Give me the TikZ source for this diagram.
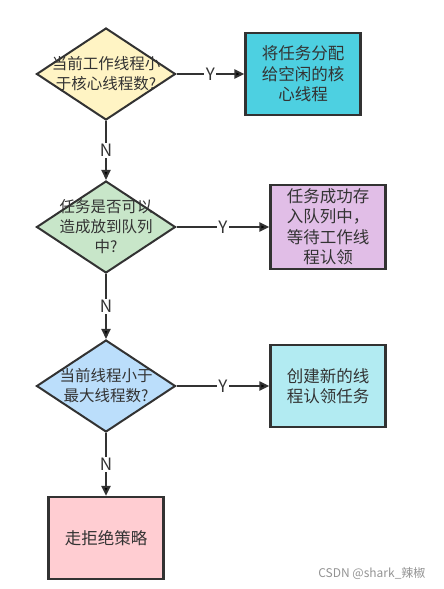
\documentclass[tikz,border=0pt]{standalone}
\usepackage{fontspec}
\setmainfont{Noto Sans CJK SC}
\usetikzlibrary{arrows.meta,shapes.geometric}
\definecolor{lineC}{HTML}{323232}
\definecolor{textC}{HTML}{333333}
\definecolor{giallo}{HTML}{FFF4C4}
\definecolor{ciano}{HTML}{4DD0E1}
\definecolor{verde}{HTML}{C8E6C9}
\definecolor{viola}{HTML}{E1BEE7}
\definecolor{azzurro}{HTML}{BBDEFB}
\definecolor{celeste}{HTML}{B2EBF2}
\definecolor{rosa}{HTML}{FFCDD2}
\tikzset{
>={Triangle[length=10pt,width=9pt]},
node distance=153pt,
dtesto/.style={text=textC,align=center,font=\fontsize{15.5}{20}\selectfont},
panduan/.style={diamond,draw=lineC,line width=2pt,minimum width=139pt,minimum height=92pt,inner sep=0pt,label={[dtesto]center:{#1}}},
kuang/.style={rectangle,draw=lineC,line width=2.2pt,minimum width=115pt,minimum height=82pt,align=center,text=textC,font=\fontsize{16.5}{20.5}\selectfont},
freccia/.style={->,line width=2pt,draw=lineC},
scritta/.style={fill=white,text=textC,inner sep=1.5pt,font=\fontsize{17}{18}\selectfont}}

\begin{document}
\begin{tikzpicture}[x=1pt,y=1pt]
\useasboundingbox (0,0) rectangle (444,-589);

\node[panduan={当前工作线程小\\于核心线程数?},fill=giallo] (d1) at (106,-74) {};
\node[kuang,fill=ciano,right of=d1,node distance=197pt] (b1) {将任务分配\\给空闲的核\\心线程};
\node[panduan={任务是否可以\\造成放到队列\\中?},fill=verde,below of=d1] (d2) {};
\node[kuang,fill=viola,right of=d2,node distance=222pt] (b2) {任务成功存\\入队列中，\\等待工作线\\程认领};
\node[panduan={当前线程小于\\最大线程数?},fill=azzurro,below of=d2,node distance=159pt] (d3) {};
\node[kuang,fill=celeste,right of=d3,node distance=222pt] (b3) {创建新的线\\程认领任务};
\node[kuang,fill=rosa,below of=d3,node distance=152pt] (b4) {走拒绝策略};

\node[anchor=east,text=gray!85,font=\fontsize{12}{14}\selectfont] (firma) at (429,-573) {CSDN @shark\_辣椒};

\path[freccia] (d1) edge node[scritta] {Y} (b1) (d1) edge node[scritta] {N} (d2);
\path[freccia] (d2) edge node[scritta] {Y} (b2) (d2) edge node[scritta] {N} (d3);
\path[freccia] (d3) edge node[scritta] {Y} (b3) (d3) edge node[scritta] {N} (b4);

\end{tikzpicture}
\end{document}
